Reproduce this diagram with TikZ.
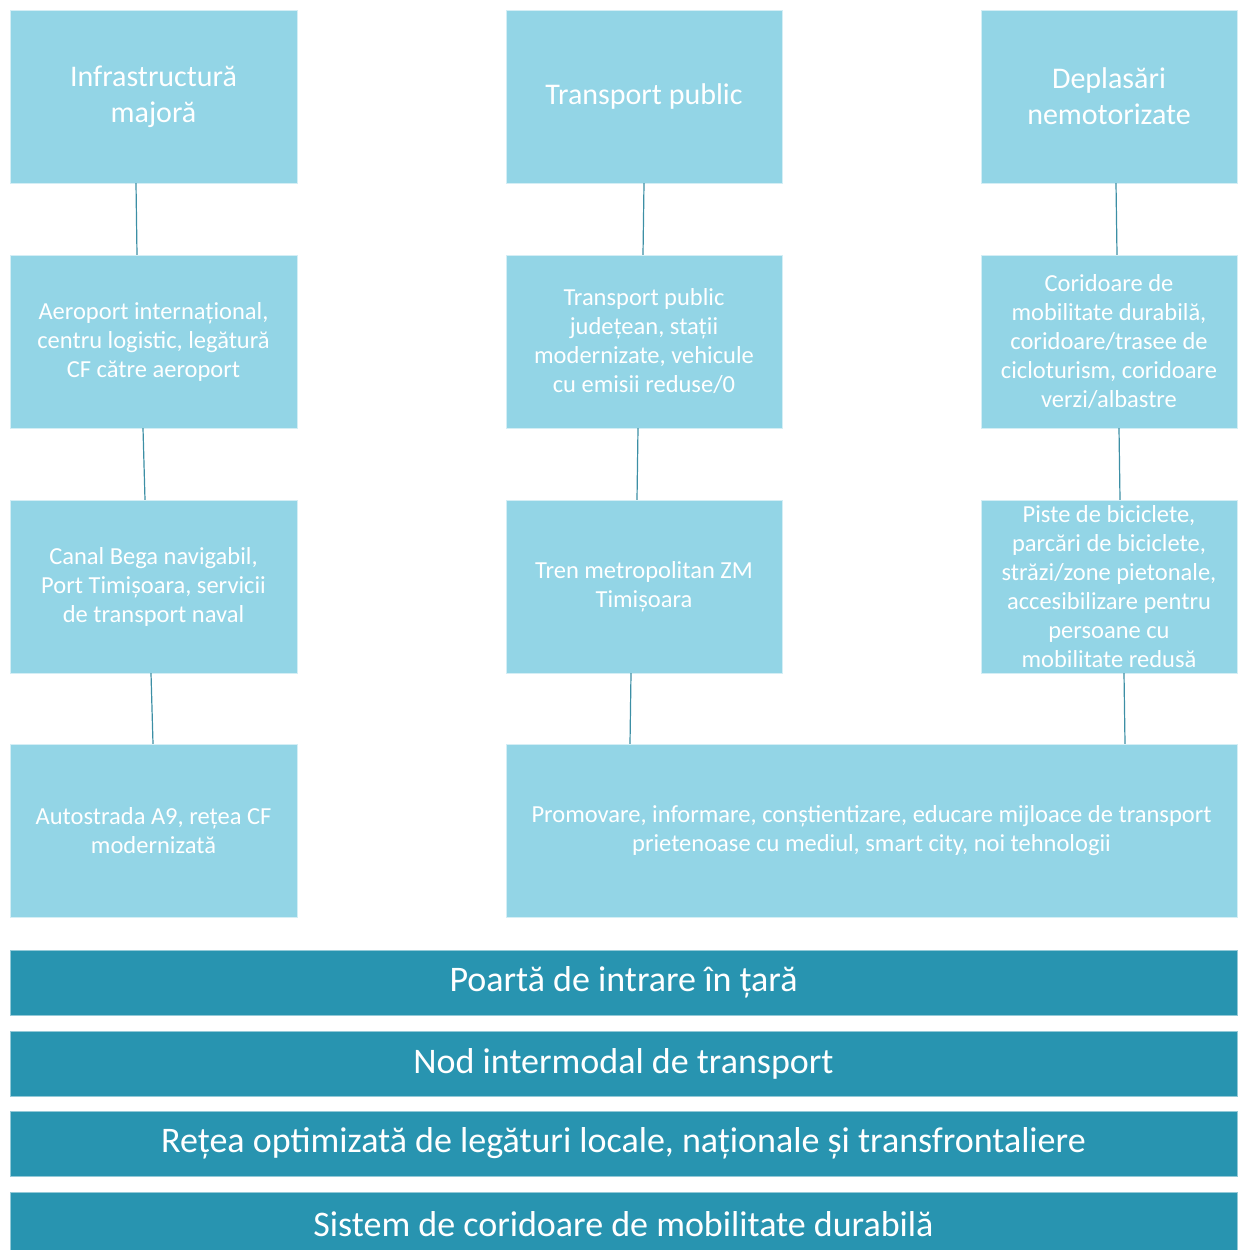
\documentclass[tikz,border=0pt]{standalone}
\usepackage{fontspec}
\setmainfont{Carlito}
\definecolor{boxblue}{HTML}{93D5E6}
\definecolor{barblue}{HTML}{2894B0}
\definecolor{linkblue}{HTML}{3C8FA5}
\tikzset{
  cell/.style={fill=boxblue, draw=white!60!boxblue, text=white, align=center,
    minimum height=173pt, inner sep=0pt, font=\fontsize{24.5}{29}\selectfont},
  head/.style={cell, font=\fontsize{30}{36}\selectfont},
  bar/.style={fill=barblue, draw=white!50!barblue, text=white, minimum width=1227pt,
    minimum height=65pt, inner sep=0pt, font=\fontsize{36}{40}\selectfont},
  link/.style={linkblue, line width=1.2pt}
}
\begin{document}
\begin{tikzpicture}[x=1pt, y=-1pt]
  \useasboundingbox (0,0) rectangle (1237,1250);

  % Column headers
  \node[head, minimum width=287pt] (infra) at (153.5,96.5) {Infrastructură\\majoră};
  \node[head, minimum width=276pt] (pub) at (644,96.5) {Transport public};
  \node[head, minimum width=256pt] (nemot) at (1109,96.5) {Deplasări\\nemotorizate};

  % Left column
  \node[cell, minimum width=287pt] (aero) at (153.5,341.5)
    {Aeroport internațional,\\centru logistic, legătură\\CF către aeroport};
  \node[cell, minimum width=287pt] (bega) at (153.5,586.5)
    {Canal Bega navigabil,\\Port Timișoara, servicii\\de transport naval};
  \node[cell, minimum width=287pt] (auto) at (153.5,830.5)
    {Autostrada A9, rețea CF\\modernizată};

  % Middle column
  \node[cell, minimum width=276pt] (judet) at (644,341.5)
    {Transport public\\județean, stații\\modernizate, vehicule\\cu emisii reduse/0};
  \node[cell, minimum width=276pt] (tren) at (644,586.5)
    {Tren metropolitan ZM\\Timișoara};

  % Right column
  \node[cell, minimum width=256pt] (corid) at (1109,341.5)
    {Coridoare de\\mobilitate durabilă,\\coridoare/trasee de\\cicloturism, coridoare\\verzi/albastre};
  \node[cell, minimum width=256pt] (piste) at (1109,586.5)
    {Piste de biciclete,\\parcări de biciclete,\\străzi/zone pietonale,\\accesibilizare pentru\\persoane cu\\mobilitate redusă};

  % Shared box under middle and right
  \node[cell, minimum width=731pt] (promo) at (871.5,830.5)
    {Promovare, informare, conștientizare, educare mijloace de transport\\
     prietenoase cu mediul, smart city, noi tehnologii};

  % Links
  \draw[link] ([xshift=-17.5pt]infra.south) -- ([xshift=-16.5pt]aero.north);
  \draw[link] ([xshift=-10.5pt]aero.south) -- ([xshift=-8.5pt]bega.north);
  \draw[link] ([xshift=-2.5pt]bega.south) -- ([xshift=-0.5pt]auto.north);
  \draw[link] (pub.south) -- ([xshift=-1pt]judet.north);
  \draw[link] ([xshift=-6pt]judet.south) -- ([xshift=-7pt]tren.north);
  \draw[link] ([xshift=-13pt]tren.south) -- ([xshift=-241.5pt]promo.north);
  \draw[link] ([xshift=7pt]nemot.south) -- ([xshift=8pt]corid.north);
  \draw[link] ([xshift=10pt]corid.south) -- ([xshift=11pt]piste.north);
  \draw[link] ([xshift=15pt]piste.south) -- ([xshift=253.5pt]promo.north);

  % Bottom bars
  \node[bar] (poarta) at (623.5,982.5) {Poartă de intrare în țară};
  \node[bar] (nod) at (623.5,1063.5) {Nod intermodal de transport};
  \node[bar] (retea) at (623.5,1143.5) {Rețea optimizată de legături locale, naționale și transfrontaliere};
  \node[bar] (sistem) at (623.5,1224.5) {Sistem de coridoare de mobilitate durabilă};
\end{tikzpicture}
\end{document}
